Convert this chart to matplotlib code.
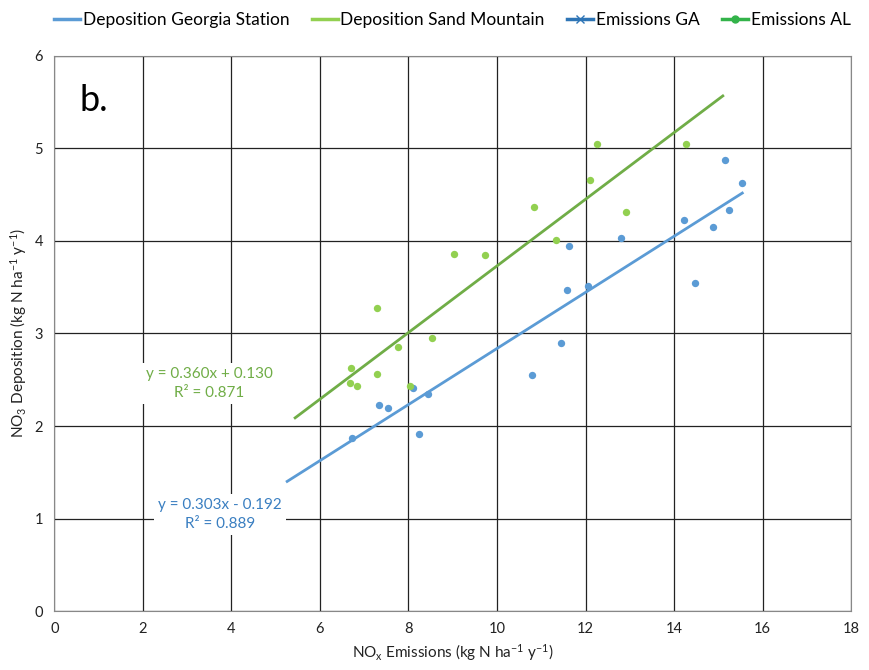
import numpy as np
import matplotlib
matplotlib.use("Agg")
from matplotlib import pyplot as plt
from matplotlib.lines import Line2D

plt.rcParams['font.family'] = ['Lato', 'DejaVu Sans']
plt.rcParams['mathtext.default'] = 'regular'

# Georgia Station: NOx emissions vs NO3 deposition
ga_x = [6.72, 7.33, 7.53, 8.10, 8.23, 8.43, 10.78, 11.44, 11.57, 11.62,
        12.06, 12.81, 14.23, 14.47, 14.87, 15.15, 15.24, 15.53]
ga_y = [1.875, 2.23, 2.19, 2.41, 1.91, 2.345, 2.555, 2.90, 3.47, 3.94,
        3.51, 4.03, 4.23, 3.545, 4.15, 4.87, 4.335, 4.62]

# Sand Mountain
al_x = [6.67, 6.71, 6.84, 7.30, 7.30, 7.76, 8.03, 8.54, 9.02, 9.73,
        10.83, 11.33, 12.10, 12.25, 12.91, 14.27]
al_y = [2.47, 2.63, 2.43, 2.565, 3.27, 2.85, 2.43, 2.95, 3.86, 3.85,
        4.365, 4.01, 4.66, 5.05, 4.31, 5.045]

# linear fits (slope, intercept, r2) and drawn x-range
ga_fit = (0.303, -0.192, 0.889)
al_fit = (0.360, 0.130, 0.871)
ga_range = [5.26, 15.54]
al_range = [5.44, 15.10]

blue = '#5B9BD5'
lgreen = '#92D050'
dgreen = '#70AD47'

fig = plt.figure(figsize=(8.7, 6.7), dpi=100)
ax = fig.add_axes([0.0624, 0.0878, 0.916, 0.829])

ax.scatter(ga_x, ga_y, s=28, color=blue, zorder=3, linewidths=0)
ax.scatter(al_x, al_y, s=28, color=lgreen, zorder=3, linewidths=0)

xs = np.array(ga_range)
ax.plot(xs, ga_fit[0] * xs + ga_fit[1], color=blue, lw=2.0, zorder=2)
xs = np.array(al_range)
ax.plot(xs, al_fit[0] * xs + al_fit[1], color=dgreen, lw=2.0, zorder=2)

ax.set_xlim(0, 18)
ax.set_ylim(0, 6)
ax.set_xticks(np.arange(0, 19, 2))
ax.set_yticks(np.arange(0, 7, 1))
ax.grid(True, color='#222222', lw=0.9)
ax.set_axisbelow(True)
for s in ax.spines.values():
    s.set_color('#888888')
ax.tick_params(length=0, labelsize=10.5, colors='#222222', pad=8)

ax.set_xlabel('NO$_x$ Emissions (kg N ha$^{-1}$ y$^{-1}$)', fontsize=11, color='#222222')
ax.set_ylabel('NO$_3$ Deposition (kg N ha$^{-1}$ y$^{-1}$)', fontsize=11, color='#222222')

ax.text(0.58, 5.4, 'b.', fontsize=26, color='black')

box = dict(facecolor='white', edgecolor='none', pad=3)
ax.text(3.5, 2.46, 'y = %.3fx + %.3f\nR² = %.3f' % al_fit, color=dgreen,
        fontsize=11, ha='center', va='center', linespacing=1.45, bbox=box)
ax.text(3.75, 1.04, 'y = %.3fx - %.3f\nR² = %.3f' % (ga_fit[0], -ga_fit[1], ga_fit[2]),
        color='#3A7FC1', fontsize=11, ha='center', va='center', linespacing=1.45, bbox=box)

handles = [
    Line2D([], [], color=blue, lw=2.5),
    Line2D([], [], color=lgreen, lw=2.5),
    Line2D([], [], color='#2E75B6', lw=2.5, marker='x', markersize=6),
    Line2D([], [], color='#33B34A', lw=2.5, marker='o', markersize=5),
]
labels = ['Deposition Georgia Station', 'Deposition Sand Mountain',
          'Emissions GA', 'Emissions AL']
fig.legend(handles, labels, loc='upper center', bbox_to_anchor=(0.52, 1.006),
           ncol=4, frameon=False, fontsize=12.5, handlelength=1.5,
           columnspacing=1.3, handletextpad=0.15)

fig.savefig('out.png', dpi=100)
